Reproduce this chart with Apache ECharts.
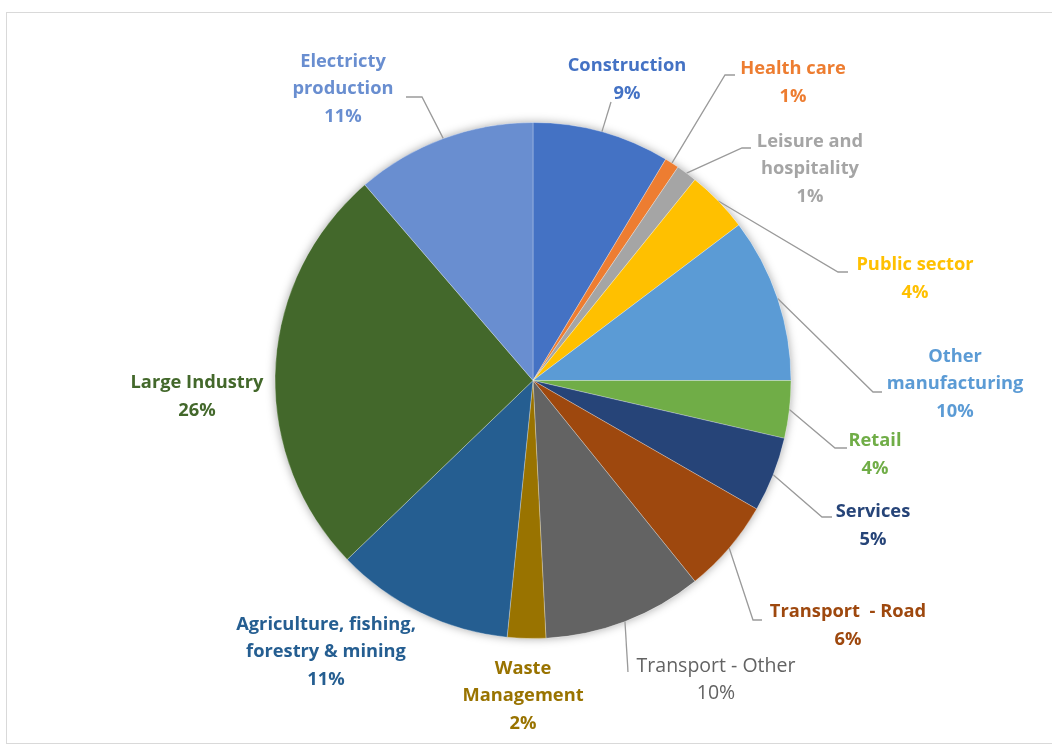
<!DOCTYPE html>
<html>
<head>
<meta charset="utf-8">
<title>Emissions by sector</title>
<script src="https://cdn.jsdelivr.net/npm/echarts@6/dist/echarts.min.js"></script>
<style>
  html, body { margin: 0; padding: 0; background: #ffffff; overflow: hidden; }
  #frame { position: absolute; left: 6px; top: 12px; width: 1100px; height: 730px; border: 1px solid #d9d9d9; }
  #chart { position: absolute; left: 0; top: 0; width: 1052px; height: 745px; }
</style>
</head>
<body>
<div id="frame"></div>
<div id="chart"></div>
<script>
// Sectors, clockwise from 12 o'clock
const categories = [
  'Construction',
  'Health care',
  'Leisure and\nhospitality',
  'Public sector',
  'Other\nmanufacturing',
  'Retail',
  'Services',
  'Transport  - Road',
  'Transport - Other',
  'Waste\nManagement',
  'Agriculture, fishing,\nforestry & mining',
  'Large Industry',
  'Electricty\nproduction'
];

// Share of total (%)
const shares = [8.6, 0.9, 1.3, 3.9, 10.3, 3.6, 4.7, 5.9, 10.0, 2.4, 11.2, 25.9, 11.3];

const sliceColors = [
  '#4472C4', '#ED7D31', '#A5A5A5', '#FFC000', '#5B9BD5', '#70AD47',
  '#264478', '#9E480E', '#636363', '#997300', '#255E91', '#43682B', '#698ED0'
];

// Pie geometry (pixels)
const CX = 533, CY = 380.5, R = 258;

// Label placement: block centre, and the leader's bend and end points
const labelSpots = [
  { x: 627, y: 80,  bend: [611, 102], end: [611, 102] },
  { x: 793, y: 83,  bend: [725, 75],  end: [735, 75] },
  { x: 810, y: 169, bend: [742, 148], end: [751, 148] },
  { x: 915, y: 279, bend: [838, 272], end: [848, 272] },
  { x: 955, y: 384, bend: [873, 392], end: [882, 392] },
  { x: 875, y: 455, bend: [835, 448], end: [847, 448] },
  { x: 873, y: 526, bend: [822, 517], end: [832, 517] },
  { x: 848, y: 626, bend: [753, 620], end: [762, 620] },
  { x: 716, y: 680, bend: [628, 672], end: [628, 672] },
  { x: 523, y: 696, bend: null },
  { x: 326, y: 652, bend: null },
  { x: 197, y: 397, bend: null },
  { x: 343, y: 89,  bend: [422, 97],  end: [406, 97] }
];

// Mid-angle point on the rim of each slice, from the cumulative shares
const total = shares.reduce((a, b) => a + b, 0);
const rimPoints = [];
let acc = 0;
shares.forEach(v => {
  const frac = (acc + v / 2) / total;
  const ang = frac * 2 * Math.PI;
  rimPoints.push([CX + R * Math.sin(ang), CY - R * Math.cos(ang)]);
  acc += v;
});

const labelFont = '"Open Sans", Lato, sans-serif';

const seriesData = categories.map((name, i) => ({
  name: name,
  value: shares[i],
  itemStyle: { color: sliceColors[i] },
  label: {
    color: sliceColors[i],
    fontWeight: i === 8 ? 'normal' : 'bold',
    fontSize: i === 8 ? 19.5 : 18.3
  },
  labelLine: { show: labelSpots[i].bend !== null }
}));

const chart = echarts.init(document.getElementById('chart'), null, { renderer: 'canvas' });

chart.setOption({
  backgroundColor: 'transparent',
  animation: false,
  series: [
    {
      // soft shadow under the whole disc
      type: 'pie',
      silent: true,
      center: [CX, CY],
      radius: [0, R],
      startAngle: 90,
      data: [{ value: 1, name: '' }],
      label: { show: false },
      labelLine: { show: false },
      itemStyle: {
        color: '#ffffff',
        shadowBlur: 10,
        shadowColor: 'rgba(0,0,0,0.35)'
      },
      z: 1
    },
    {
      type: 'pie',
      center: [CX, CY],
      radius: [0, R],
      startAngle: 90,
      clockwise: true,
      avoidLabelOverlap: false,
      data: seriesData,
      itemStyle: {
        borderColor: 'rgba(255,255,255,0.45)',
        borderWidth: 0.6
      },
      label: {
        show: true,
        position: 'outside',
        fontFamily: labelFont,
        fontSize: 18.3,
        lineHeight: 27.5,
        align: 'center',
        formatter: p => p.name + '\n' + Math.round(p.percent) + '%'
      },
      labelLine: {
        show: true,
        lineStyle: { color: '#9a9a9a', width: 1.3 }
      },
      labelLayout: function (params) {
        const i = params.dataIndex;
        const s = labelSpots[i];
        const out = { x: s.x, y: s.y, align: 'center', verticalAlign: 'middle' };
        if (s.bend) {
          out.labelLinePoints = [rimPoints[i], s.bend, s.end];
        }
        return out;
      },
      emphasis: { disabled: true },
      z: 2
    }
  ]
});
</script>
</body>
</html>
